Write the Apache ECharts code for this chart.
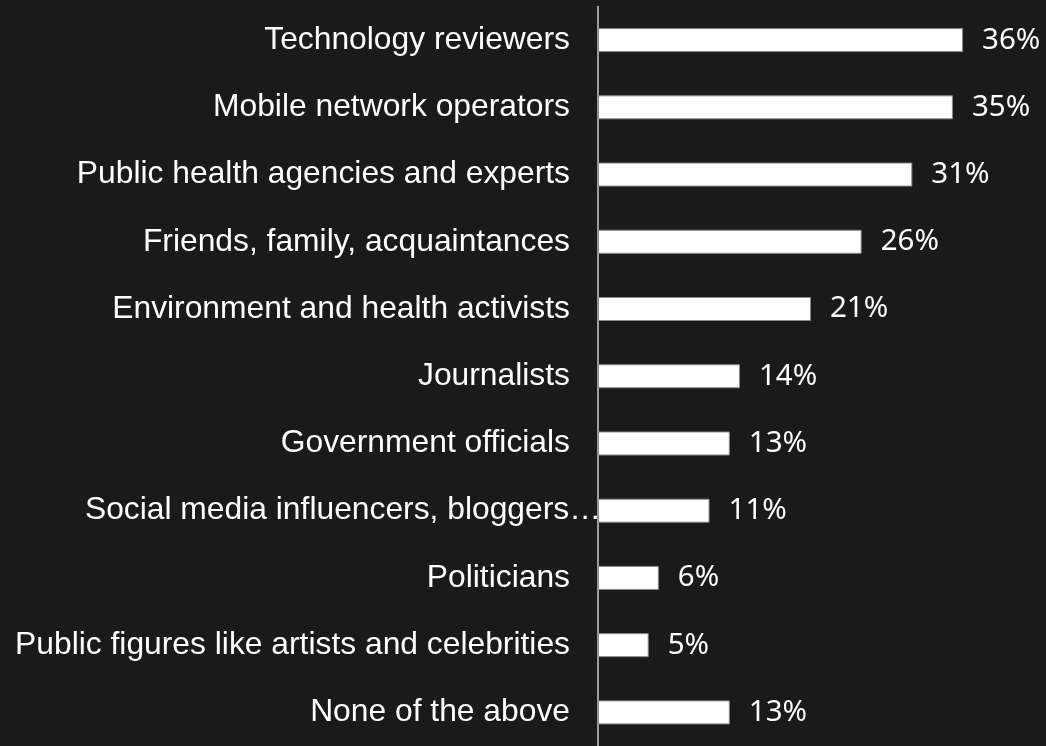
<!DOCTYPE html>
<html>
<head>
<meta charset="utf-8">
<script src="https://cdn.jsdelivr.net/npm/echarts@6/dist/echarts.min.js"></script>
<style>
html,body{margin:0;padding:0;background:#1a1a1a;}
#chart{width:1046px;height:746px;}
</style>
</head>
<body>
<div id="chart"></div>
<script>
const categories = [
  "Technology reviewers",
  "Mobile network operators",
  "Public health agencies and experts",
  "Friends, family, acquaintances",
  "Environment and health activists",
  "Journalists",
  "Government officials",
  "Social media influencers, bloggers\u2026",
  "Politicians",
  "Public figures like artists and celebrities",
  "None of the above"
];
const values = [36, 35, 31, 26, 21, 14, 13, 11, 6, 5, 13];

const yData = categories.map(function (c) {
  if (c.endsWith('\u2026')) {
    return {value: c, textStyle: {padding: [0, -31, 0, 0]}};
  }
  return c;
});

const chart = echarts.init(document.getElementById('chart'), null, {renderer: 'canvas'});
chart.setOption({
  backgroundColor: '#1a1a1a',
  animation: false,
  grid: {left: 598, top: 6.5, bottom: -5, width: 405.6, containLabel: false},
  xAxis: {
    type: 'value', min: 0, max: 40,
    show: false
  },
  yAxis: {
    type: 'category',
    data: yData,
    inverse: true,
    axisLine: {show: true, lineStyle: {color: '#c8c8c8', width: 1.5}},
    axisTick: {show: false},
    splitLine: {show: false},
    axisLabel: {
      margin: 28,
      color: '#ffffff',
      fontFamily: 'Liberation Sans, Arial, sans-serif',
      fontSize: 31.8
    }
  },
  series: [{
    type: 'bar',
    data: values,
    barWidth: 24,
    itemStyle: {color: '#ffffff', borderColor: '#8a8a8a', borderWidth: 1},
    label: {
      show: true,
      position: 'right',
      distance: 19,
      color: '#ffffff',
      fontFamily: 'Noto Sans, sans-serif',
      fontSize: 29.5,
      formatter: '{c}%'
    }
  }]
});
</script>
</body>
</html>
